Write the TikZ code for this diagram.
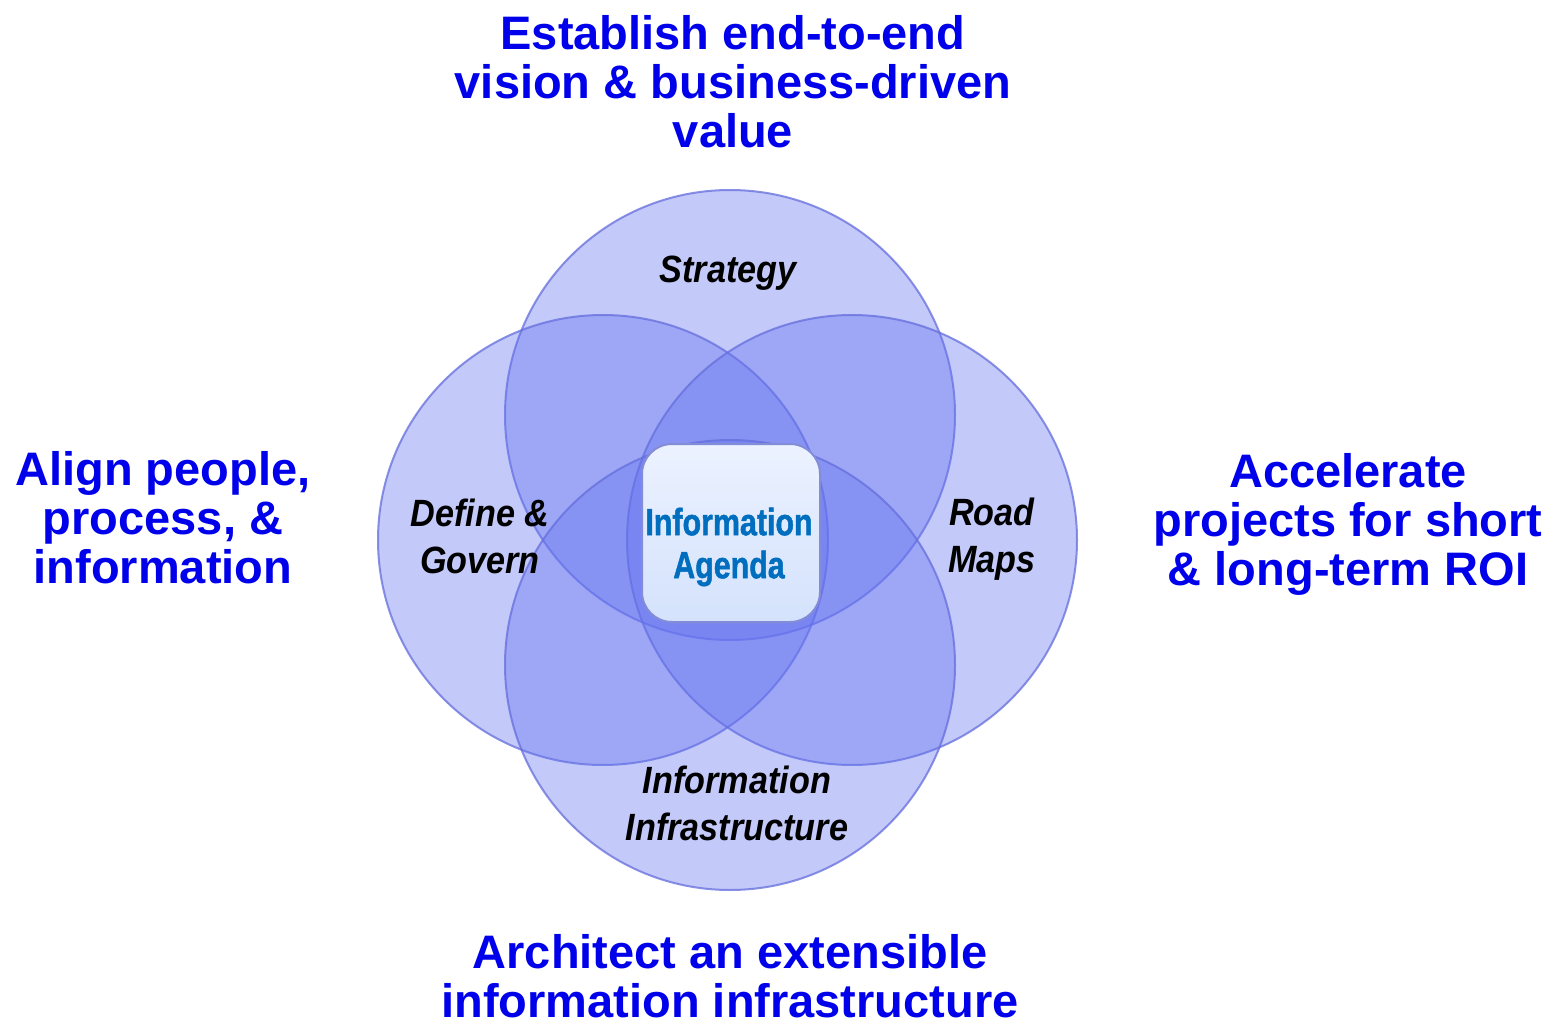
\documentclass[tikz,border=0pt]{standalone}
\usepackage{fontspec}
\setmainfont{Liberation Sans}
\newfontfamily\agendafont[FakeStretch=0.8, BoldFeatures={FakeBold=1.2}]{Liberation Sans}
\newfontfamily\partfont[FakeStretch=0.9]{Liberation Sans}
\usetikzlibrary{positioning}

\definecolor{goalblue}{RGB}{0,0,235}
\definecolor{ringfill}{RGB}{100,115,240}
\definecolor{ringedge}{RGB}{100,110,220}
\definecolor{agendablue}{RGB}{0,110,190}
\definecolor{agendaedge}{RGB}{130,140,215}

\begin{document}
\begin{tikzpicture}[
                x=1pt, y=-1pt,
                ring/.style={circle, minimum size=450pt, inner sep=0pt, fill=ringfill, fill opacity=0.39, draw=ringedge, draw opacity=0.75, line width=2pt},
                part/.style={align=center, anchor=base, inner sep=0pt, font=\fontsize{38}{47}\partfont\bfseries\itshape},
                goal/.style={align=center, anchor=base, inner sep=0pt, text=goalblue, font=\fontsize{47}{49}\selectfont\bfseries},
                agendabox/.style={rectangle, rounded corners=30pt, minimum size=178pt, top color={rgb,255:red,236;green,242;blue,255}, bottom color={rgb,255:red,212;green,226;blue,252}, draw=agendaedge, line width=2pt},
                agendatext/.style={align=center, inner sep=0pt, text=agendablue, font=\fontsize{38}{43}\agendafont\bfseries}
            ]

            \useasboundingbox (0,0) rectangle (1553,1024);

            % the four overlapping circles
            \node[ring] (strategy) at (730,415) {};
            \node[ring] (govern) at (603,540) {};
            \node[ring] (roadmaps) at (852,540) {};
            \node[ring] (infra) at (730,665) {};

            % centre
            \node[agendabox] (agenda) at (731,533) {};
            \node[agendatext] (agendalbl) at (729,547) {Information\\Agenda};

            % circle labels (base = last line)
            \node[part] (strategylbl) at (728,283) {Strategy};
            \node[part] (governlbl) at (480,573) {Define \&\\Govern};
            \node[part] (roadmapslbl) at (992,572) {Road\\Maps};
            \node[part] (infralbl) at (737,840) {Information\\Infrastructure};

            % goals round the diagram
            \node[goal] (visiongoal) at (733,148) {Establish end-to-end\\vision \& business-driven\\value};
            \node[goal] (aligngoal) at (163,583) {Align people,\\process, \&\\information};
            \node[goal] (roigoal) at (1348,585) {Accelerate\\projects for short\\\& long-term ROI};
            \node[goal] (archgoal) at (730,1017) {Architect an extensible\\information infrastructure};

        \end{tikzpicture}
\end{document}
